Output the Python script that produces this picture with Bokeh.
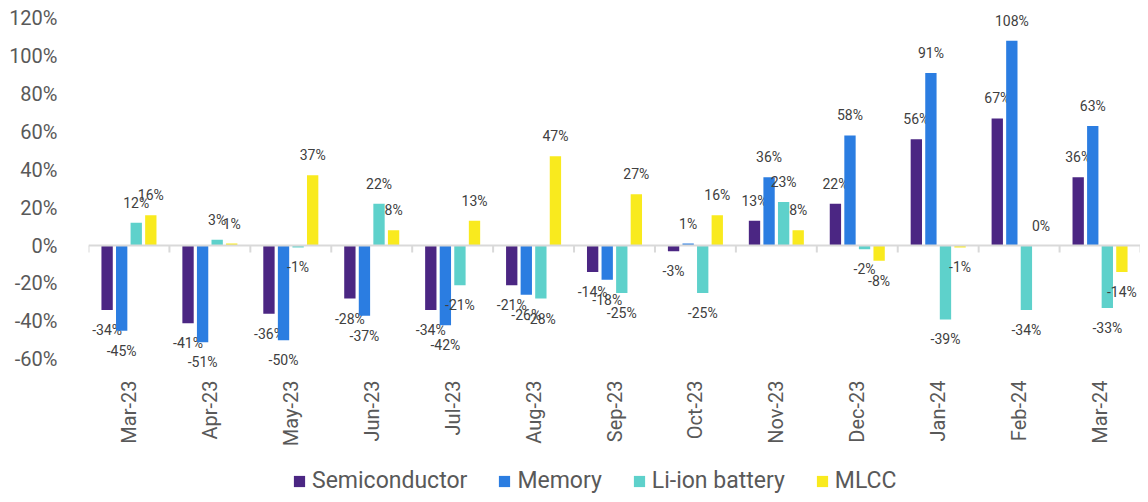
import math
from bokeh.plotting import figure
from bokeh.layouts import column
from bokeh.models import (ColumnDataSource, FactorRange, Range1d, FixedTicker, Span,
                          Legend, LegendItem, CustomJSTickFormatter)
from bokeh.transform import dodge
from bokeh.core.properties import value
from bokeh.embed import file_html
from bokeh.resources import INLINE

months = ["Mar-23", "Apr-23", "May-23", "Jun-23", "Jul-23", "Aug-23", "Sep-23",
          "Oct-23", "Nov-23", "Dec-23", "Jan-24", "Feb-24", "Mar-24"]
semiconductor = [-34, -41, -36, -28, -34, -21, -14, -3, 13, 22, 56, 67, 36]
memory = [-45, -51, -50, -37, -42, -26, -18, 1, 36, 58, 91, 108, 63]
li_ion = [12, 3, -1, 22, -21, -28, -25, -25, 23, -2, -39, -34, -33]
mlcc = [16, 1, 37, 8, 13, 47, 27, 16, 8, -8, -1, 0, -14]
y_ticks = [-60, -40, -20, 0, 20, 40, 60, 80, 100, 120]

series = [
    ("Semiconductor", semiconductor, "#4B2683", -0.27),
    ("Memory", memory, "#2B7DE1", -0.09),
    ("Li-ion battery", li_ion, "#5ED1CB", 0.09),
    ("MLCC", mlcc, "#F9EA1E", 0.27),
]

FONT = "Roboto"

p = figure(width=1140, height=450, x_range=FactorRange(*months), y_range=Range1d(-68, 126),
           output_backend="svg", toolbar_location=None,
           min_border_left=88, min_border_right=0, min_border_top=6, min_border_bottom=76)
p.outline_line_color = None
p.xgrid.visible = False
p.ygrid.visible = False
p.background_fill_color = "white"

# zero line
p.add_layout(Span(location=0, dimension="width", line_color="#D9D9D9", line_width=2))

# tick marks between categories
bounds_src = ColumnDataSource(dict(m=months, y0=[0] * len(months), y1=[-3.7] * len(months)))
p.segment(x0=dodge("m", -0.5, range=p.x_range), y0="y0", x1=dodge("m", -0.5, range=p.x_range),
          y1="y1", source=bounds_src, line_color="#D9D9D9", line_width=2)
last_src = ColumnDataSource(dict(m=[months[-1]], y0=[0], y1=[-3.7]))
p.segment(x0=dodge("m", 0.5, range=p.x_range), y0="y0", x1=dodge("m", 0.5, range=p.x_range),
          y1="y1", source=last_src, line_color="#D9D9D9", line_width=2)

sources = []
for name, vals, color, off in series:
    src = ColumnDataSource(dict(
        m=months, v=vals,
        lbl=[f"{v}%" for v in vals],
        yo=[-20 if v >= 0 else 20 for v in vals],
    ))
    sources.append(src)
    p.vbar(x=dodge("m", off, range=p.x_range), top="v", bottom=0, width=0.14,
           source=src, fill_color=color, line_color=None)
    p.text(x=dodge("m", off, range=p.x_range), y="v", text="lbl", y_offset="yo", source=src,
           text_align="center", text_baseline="middle", text_font=value(FONT),
           text_font_size="14px", text_color="#404040")

# axes
p.yaxis.ticker = FixedTicker(ticks=y_ticks)
p.yaxis.formatter = CustomJSTickFormatter(code="return tick + '%';")
p.yaxis.axis_line_color = None
p.yaxis.major_tick_line_color = None
p.yaxis.minor_tick_line_color = None
p.yaxis.major_label_standoff = 25
p.yaxis.major_label_text_font = FONT
p.yaxis.major_label_text_font_size = "20px"
p.yaxis.major_label_text_color = "#595959"

p.xaxis.axis_line_color = None
p.xaxis.major_tick_line_color = None
p.xaxis.minor_tick_line_color = None
p.xaxis.major_label_orientation = math.pi / 2
p.xaxis.major_label_standoff = 0
p.xaxis.major_label_text_font = FONT
p.xaxis.major_label_text_font_size = "20px"
p.xaxis.major_label_text_color = "#595959"

# legend strip (its bars sit outside its visible y range; only the legend shows)
lf = figure(width=1140, height=44, x_range=FactorRange(*months), y_range=Range1d(1000, 1001),
            output_backend="svg", toolbar_location=None,
            x_axis_location=None, y_axis_location=None,
            min_border_left=0, min_border_right=0, min_border_top=0, min_border_bottom=0)
lf.outline_line_color = None
lf.xgrid.visible = False
lf.ygrid.visible = False
items = []
for (name, vals, color, off), src in zip(series, sources):
    r = lf.vbar(x="m", top="v", bottom=0, width=0.14, source=src,
                fill_color=color, line_color=None)
    items.append(LegendItem(label=name, renderers=[r]))

legend = Legend(items=items, orientation="horizontal", location=(204, 0))
legend.padding = 0
legend.margin = 0
legend.spacing = 30
legend.label_standoff = 6
legend.glyph_width = 14
legend.glyph_height = 14
legend.label_text_font = FONT
legend.label_text_font_size = "23px"
legend.label_text_color = "#595959"
legend.background_fill_alpha = 0
legend.border_line_color = None
lf.add_layout(legend)

layout = column(p, lf, spacing=0)
open("out.html", "w").write(file_html(layout, INLINE))
